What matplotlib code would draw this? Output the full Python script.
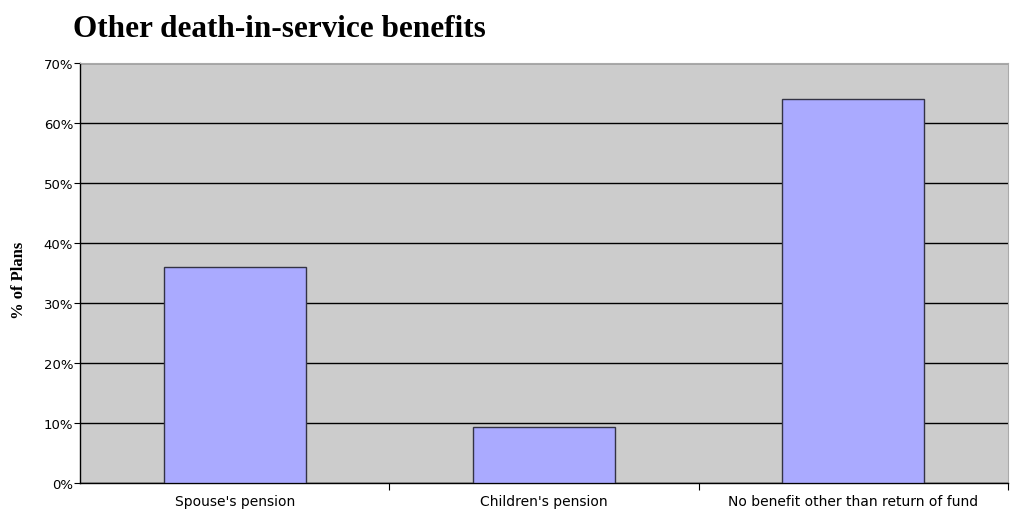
import matplotlib.pyplot as plt
from matplotlib.ticker import MultipleLocator, PercentFormatter

categories = ["Spouse's pension", "Children's pension", "No benefit other than return of fund"]
pct_plans = [36.0, 9.3, 64.0]

fig = plt.figure(figsize=(10.18, 5.10), dpi=100)
ax = fig.add_axes([0.0786, 0.0504, 0.9114, 0.8241])
ax.set_facecolor('#cccccc')

x = range(len(categories))
ax.bar(x, pct_plans, width=0.46, color='#aaaaff', edgecolor='#333344', linewidth=1.0, zorder=3)

ax.set_xlim(-0.5, 2.5)
ax.set_ylim(0, 70)
ax.yaxis.set_major_locator(MultipleLocator(10))
ax.yaxis.set_major_formatter(PercentFormatter(decimals=0))
ax.grid(axis='y', color='black', linewidth=1.0, zorder=1)

# category labels sit between boundary ticks
ax.set_xticks([0.5, 1.5, 2.5])
ax.set_xticklabels([])
ax.set_xticks(list(x), minor=True)
ax.set_xticklabels(categories, minor=True, fontsize=10, family='DejaVu Sans')
ax.tick_params(axis='x', which='minor', length=0, pad=8)
ax.tick_params(axis='x', which='major', length=5, width=0.8, direction='out')
ax.tick_params(axis='y', length=4, width=0.8, pad=1, labelsize=9.5)

for side in ['top', 'right']:
    ax.spines[side].set_color('#aaaaaa')
for side in ['left', 'bottom']:
    ax.spines[side].set_color('black')
    ax.spines[side].set_linewidth(1.0)

ax.set_ylabel('% of Plans', family='Liberation Serif', fontweight='bold', fontsize=12)
ax.yaxis.set_label_coords(-0.057, 0.485)
fig.text(0.0717, 0.943, 'Other death-in-service benefits', family='Liberation Serif',
         fontweight='bold', fontsize=22.5, ha='left', va='center')

fig.savefig('out.png', dpi=100)
